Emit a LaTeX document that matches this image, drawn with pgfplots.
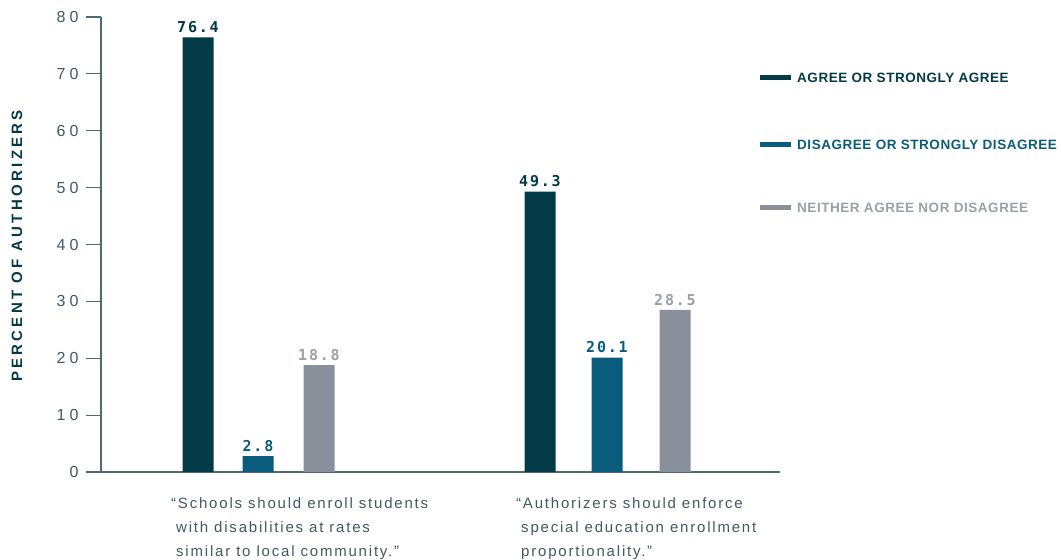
\documentclass[border=0pt]{standalone}
\usepackage{pgfplots}
\pgfplotsset{compat=1.18}
\usepackage{fontspec}
\setmainfont{Liberation Sans}
\newfontfamily\tickfont{Liberation Sans}[LetterSpace=25]
\newfontfamily\catfont{Liberation Sans}[LetterSpace=12]
\newfontfamily\legfont{Liberation Sans}[LetterSpace=4]
\newfontfamily\ylabfont{Liberation Sans}[LetterSpace=22]
\newfontfamily\valfont{DejaVu Sans Mono}[LetterSpace=12]
\definecolor{darkc}{HTML}{033A47}
\definecolor{bluec}{HTML}{0A5C7C}
\definecolor{grayc}{HTML}{8A909B}
\definecolor{graytxt}{HTML}{9A9FA8}
\definecolor{txtc}{HTML}{3E5A66}
\definecolor{axc}{HTML}{4D6B77}
\begin{document}
\begin{tikzpicture}
\useasboundingbox (0,0) rectangle (1061bp,560bp);
\begin{axis}[
  at={(101bp,88bp)}, anchor=south west,
  scale only axis, width=679bp, height=455bp,
  xmin=101, xmax=780, ymin=0, ymax=80,
  axis x line*=bottom, axis y line*=left,
  axis line style={-, draw=axc, line width=1.2bp},
  xtick=\empty,
  ytick={0,10,...,80},
  tick align=outside, major tick length=15bp,
  ytick style={draw=axc, line width=1.2bp},
  /pgf/number format/assume math mode=true,
  yticklabel style={font=\tickfont\fontsize{16bp}{18bp}\selectfont, color=txtc, xshift=-4bp},
  clip=false,
  point meta=y,
  nodes near coords,
  nodes near coords style={font=\valfont\bfseries\fontsize{15bp}{18bp}\selectfont, yshift=1bp},
]
\addplot[ybar, bar shift=0pt, bar width=31, fill=darkc, draw=none,
  nodes near coords style={color=darkc}] coordinates {(198,76.4) (540,49.3)};
\addplot[ybar, bar shift=0pt, bar width=31, fill=bluec, draw=none,
  nodes near coords style={color=bluec}] coordinates {(258,2.8) (607,20.1)};
\addplot[ybar, bar shift=0pt, bar width=31, fill=grayc, draw=none,
  nodes near coords style={color=graytxt}] coordinates {(319,18.8) (675,28.5)};
\end{axis}
% y label
\node[rotate=90, font=\ylabfont\bfseries\fontsize{15bp}{17bp}\selectfont, color=darkc] at (17bp,314bp) {PERCENT OF AUTHORIZERS};
% category labels
\node[anchor=north west, align=left, inner sep=0pt, font=\catfont\fontsize{15bp}{24bp}\selectfont, color=txtc] at (171bp,63bp)
 {“Schools should enroll students\\\phantom{“}with disabilities at rates\\\phantom{“}similar to local community.”};
\node[anchor=north west, align=left, inner sep=0pt, font=\catfont\fontsize{15bp}{24bp}\selectfont, color=txtc] at (516bp,63bp)
 {“Authorizers should enforce\\\phantom{“}special education enrollment\\\phantom{“}proportionality.”};
% legend
\fill[darkc] (760bp,479.5bp) rectangle (791bp,484.5bp);
\node[anchor=west, inner sep=0pt, font=\legfont\bfseries\fontsize{13.5bp}{16bp}\selectfont, color=darkc] at (797bp,482bp) {AGREE OR STRONGLY AGREE};
\fill[bluec] (760bp,412.5bp) rectangle (791bp,417.5bp);
\node[anchor=west, inner sep=0pt, font=\legfont\bfseries\fontsize{13.5bp}{16bp}\selectfont, color=bluec] at (797bp,415bp) {DISAGREE OR STRONGLY DISAGREE};
\fill[grayc] (760bp,349.5bp) rectangle (791bp,354.5bp);
\node[anchor=west, inner sep=0pt, font=\legfont\bfseries\fontsize{13.5bp}{16bp}\selectfont, color=graytxt] at (797bp,352bp) {NEITHER AGREE NOR DISAGREE};
\end{tikzpicture}
\end{document}
